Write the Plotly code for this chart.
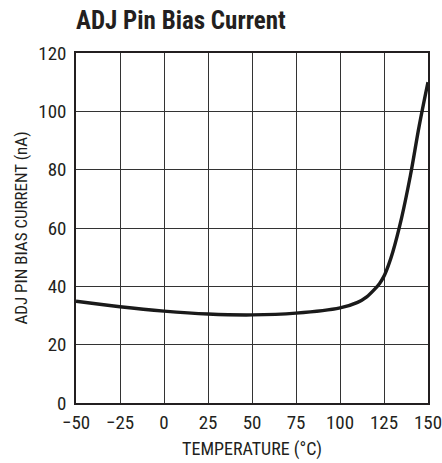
import plotly.graph_objects as go

temperature = [-50, -25, 0, 25, 50, 75, 100, 110, 115, 120, 122.5, 125, 127.5, 130, 135, 140, 145, 150]
bias_current = [34.9, 33.0, 31.5, 30.5, 30.2, 30.8, 32.6, 34.5, 36.3, 39.2, 41.0, 43.5, 47.2, 51.8, 63.5, 78, 95, 110]

x_ticks = [-50, -25, 0, 25, 50, 75, 100, 125, 150]
x_labels = ["\u221250", "\u221225", "0", "25", "50", "75", "100", "125", "150"]
y_ticks = [0, 20, 40, 60, 80, 100, 120]

font_family = "Roboto Condensed, Liberation Sans Narrow, Arial Narrow, sans-serif"
ink = "#231f20"

fig = go.Figure()
fig.add_trace(go.Scatter(
    x=temperature, y=bias_current, mode="lines",
    line=dict(color="#1a1a1a", width=3.4, shape="spline", smoothing=1.0),
    showlegend=False, hoverinfo="skip"))

fig.update_layout(
    width=442, height=463,
    margin=dict(l=76, r=14, t=53, b=60),
    paper_bgcolor="white", plot_bgcolor="white",
    title=dict(text="<b>ADJ Pin Bias Current</b>", x=76/442, xanchor="left",
               y=1 - 20/463, yanchor="middle",
               font=dict(family=font_family, size=25, color=ink)),
    font=dict(family=font_family, color=ink),
)
fig.update_xaxes(
    range=[-50, 150], tickvals=x_ticks, ticktext=x_labels,
    showgrid=True, gridcolor="#333333", gridwidth=1,
    showline=True, linecolor=ink, linewidth=1.5, mirror=True,
    ticks="outside", ticklen=1, tickcolor="rgba(0,0,0,0)",
    ticklabeloverflow="allow",
    tickfont=dict(size=19), zeroline=False, automargin=False,
    title=dict(text="TEMPERATURE (\u00b0C)", font=dict(size=18), standoff=10),
)
fig.update_yaxes(
    range=[0, 120], tickvals=y_ticks,
    showgrid=True, gridcolor="#333333", gridwidth=1,
    showline=True, linecolor=ink, linewidth=1.5, mirror=True,
    ticks="outside", ticklen=4, tickcolor="rgba(0,0,0,0)",
    tickfont=dict(size=19), zeroline=False, automargin=False,
    title=dict(text="ADJ PIN BIAS CURRENT (nA)", font=dict(size=17), standoff=6),
)

fig.write_html("out.html", config={"displayModeBar": False},
               post_script="document.body.style.margin='0';")
